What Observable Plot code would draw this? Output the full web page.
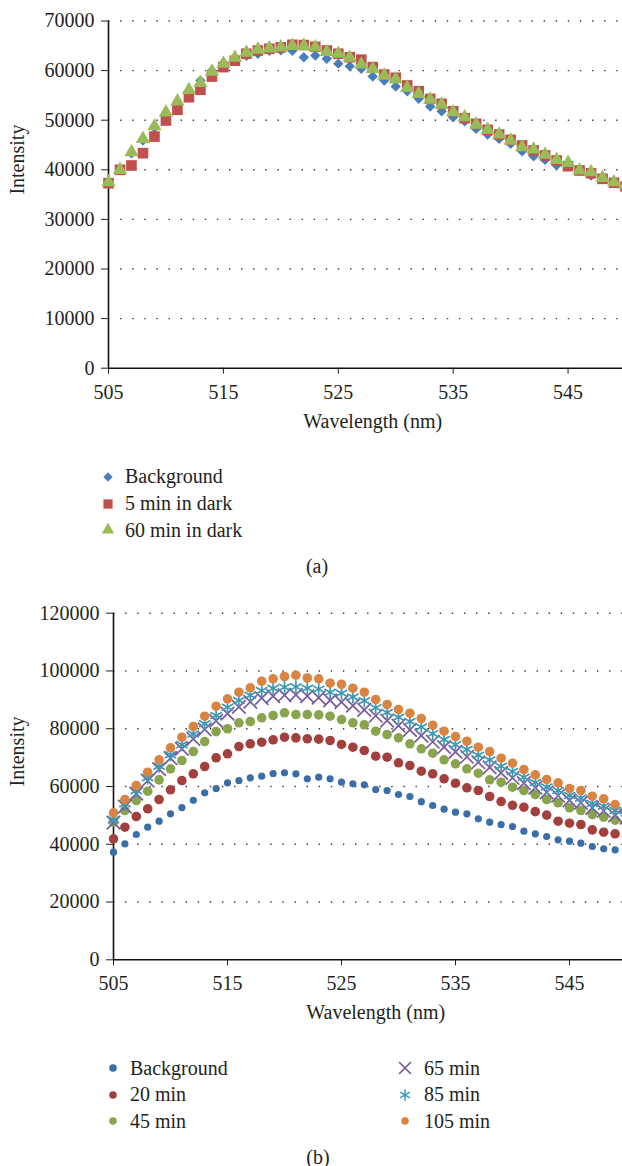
<!DOCTYPE html>
<html><head><meta charset="utf-8">
<script src="https://cdn.jsdelivr.net/npm/d3@7"></script>
<script src="https://cdn.jsdelivr.net/npm/@observablehq/plot@0.6"></script>
<style>
html,body{margin:0;padding:0;background:#fff}
body{width:622px;height:1166px;position:relative;overflow:hidden;font-family:"Liberation Serif",serif;color:#231f20}
.abs{position:absolute}
.leg{position:absolute;font-size:20px;line-height:24px;height:24px;white-space:nowrap}
.cap{position:absolute;font-size:20px;line-height:24px;height:24px;width:100px;text-align:center}
</style></head><body>
<div id="pa" class="abs" style="left:0;top:0"></div>
<div id="pb" class="abs" style="left:0;top:590px"></div>
<div id="legs"></div>
<script>
// ---------- data ----------
const wavelengths = [505,506,507,508,509,510,511,512,513,514,515,516,517,518,519,520,521,522,523,524,525,526,527,528,529,530,531,532,533,534,535,536,537,538,539,540,541,542,543,544,545,546,547,548,549,550];
const xTicks = [505,515,525,535,545];
const yTicksA = [0,10000,20000,30000,40000,50000,60000,70000];
const yTicksB = [0,20000,40000,60000,80000,100000,120000];

// Panel (a)
const seriesA = ["Background","5 min in dark","60 min in dark"];
const bgA = [37300,40000,43350,45900,48500,51200,53500,55800,58000,60000,61500,62500,63000,63400,64000,64100,64000,62700,63050,62400,61400,60900,60350,58800,58000,56800,55850,54300,52750,51800,50600,49800,48250,47100,46250,45250,43750,42750,42000,40900,40650,39850,38850,38400,37500,37100];
const dark5A = [37300,40000,40870,43350,46700,49940,52100,54640,56130,58800,60700,62000,63400,64050,64400,64700,65200,65150,64800,64050,63400,62700,62200,60700,59200,58550,57000,55850,54300,53300,51800,50400,49270,48060,47100,46050,44900,43900,42900,41880,40730,39860,39300,38180,37380,36630];
const dark60A = [37500,40000,43550,46250,48800,51600,53800,56100,57500,59800,61400,62600,63600,64250,64500,64700,65000,65000,64700,63750,63400,62600,61230,60350,59000,58270,56540,55320,54170,53160,51610,50600,49130,48060,47120,45900,44570,44100,43080,42010,41410,39860,39520,38390,37500,37000];

// Panel (b)
const seriesB = ["Background","20 min","45 min","65 min","85 min","105 min"];
const bgB = [37250,40160,43380,45910,48000,50540,52700,55200,57810,59300,61270,62070,63000,63570,64500,64740,64390,62660,63220,62660,61490,60930,60580,58960,58610,57230,56540,54750,53420,52150,51100,50540,48810,47650,46840,46150,44520,43620,42690,41540,41060,40370,39220,38430,38080,37500];
const min20B = [41890,45910,49610,52280,55500,58850,62070,64390,66920,69930,71320,73840,74780,75330,76160,77070,76850,76510,76400,75930,74550,73600,72460,70490,70150,68200,67270,65300,64390,62660,61150,59550,58610,56540,54800,53500,52840,51300,50100,47990,47300,46840,45000,44170,43620,42800];
const min45B = [47640,51690,55150,58370,62300,66120,69000,72110,75570,79000,80000,82050,82500,83780,84580,85510,84920,84920,84800,84340,83190,82050,81360,79140,78000,76860,74780,73050,71530,69240,67860,66120,64600,62320,61490,59760,58610,57230,55500,54350,52620,51690,50300,49370,48350,47500];
const min65B = [47500,53000,57500,62000,66000,69800,73000,76500,79800,82700,85200,87600,89300,90600,91300,91600,91700,91300,90800,89800,89200,88000,86500,84500,82800,81100,79600,77600,75500,73600,72000,70300,68400,66600,64700,63000,61200,59600,58000,56800,55200,54300,52600,51600,50000,49200];
const min85B = [48500,54000,58500,63000,67000,71000,74500,78200,81700,84600,87400,89800,91600,93200,94000,94400,94500,94000,93700,92600,92300,91000,89700,87300,85600,84000,82500,80600,78300,76300,74500,72800,70800,69200,67000,65200,63200,61400,59800,58600,56900,56000,54100,53200,51700,50900];
const min105B = [50900,55500,60340,64950,69240,73400,77070,80770,84340,87800,90360,92640,94170,96450,97280,98080,98530,97560,97280,95770,95400,94040,92640,90120,88390,86660,85380,83540,81200,79140,77300,75680,73600,72110,69790,68060,65880,64050,62420,61280,59300,58610,56640,55740,53760,52800];

// ---------- styles ----------
const FONT = '"Liberation Serif", serif';
const TXT = "#231f20";
const stylesA = [
  {symbol: "diamond2", fill: "#4a7ebb", r: 4.7},
  {symbol: "square", fill: "#c0504d", r: 6.0},
  {symbol: "triangle", fill: "#9bbb59", r: 5.3}
];
const stylesB = [
  {symbol: "circle", fill: "#3b6ea8", r: 3.6},
  {symbol: "circle", fill: "#a3403e", r: 4.8},
  {symbol: "circle", fill: "#88a44c", r: 4.8},
  {symbol: "times", stroke: "#7a5a9c", r: 6.2},
  {symbol: "asterisk", stroke: "#3d9ab5", r: 6.2},
  {symbol: "circle", fill: "#d98442", r: 4.8}
];

const rows = (vals, name) => wavelengths.map((w, i) => ({w, v: vals[i], s: name}));

function dotMark(data, st) {
  const o = {x: "w", y: "v", symbol: st.symbol, r: st.r};
  if (st.fill) { o.fill = st.fill; o.stroke = "none"; }
  else { o.fill = "none"; o.stroke = st.stroke; o.strokeWidth = 1.7; }
  return Plot.dot(data, o);
}

function makePanel({values, names, styles, yTicks, yMax, mL, mR, mT, mB, tickPad, labDy, labDx}) {
  const marks = [
    Plot.ruleY(yTicks.filter(d => d > 0), {y: d => d, stroke: "#3a3a3a", strokeWidth: 1.4, strokeDasharray: "1.4 10.7"}),
    Plot.axisY({ticks: yTicks, tickFormat: "d", tickSize: 7, tickPadding: 7, label: null, fontSize: 20}),
    Plot.axisX({ticks: xTicks, tickFormat: "d", tickSize: 6, tickPadding: tickPad, label: null, fontSize: 20}),
    Plot.ruleX([505], {stroke: "#111", strokeWidth: 1.6}),
    Plot.ruleY([0], {stroke: "#111", strokeWidth: 1.6})
  ];
  values.forEach((vals, i) => marks.push(dotMark(rows(vals, names[i]), styles[i])));
  marks.push(Plot.text(["Wavelength (nm)"], {text: d => d, frameAnchor: "bottom", dy: labDy, fontSize: 20, fill: TXT}));
  marks.push(Plot.text(["Intensity"], {text: d => d, frameAnchor: "left", dx: labDx, rotate: -90, fontSize: 20, fill: TXT}));
  return Plot.plot({
    width: 622, height: 440,
    marginLeft: mL, marginRight: mR, marginTop: mT, marginBottom: mB,
    style: {fontFamily: FONT, fontSize: "20px", color: TXT, background: "transparent", overflow: "visible"},
    x: {domain: [505, 551]},
    y: {domain: [0, yMax]},
    marks
  });
}

document.getElementById("pa").append(makePanel({
  values: [bgA, dark5A, dark60A], names: seriesA, styles: stylesA,
  yTicks: yTicksA, yMax: 70000, mL: 108, mR: -14.5, mT: 20.5, mB: 72.3, tickPad: 10.7, labDy: 60, labDx: -91
}));
document.getElementById("pb").append(makePanel({
  values: [bgB, min20B, min45B, min65B, min85B, min105B], names: seriesB, styles: stylesB,
  yTicks: yTicksB, yMax: 120000, mL: 113, mR: -15.4, mT: 22.7, mB: 70.7, tickPad: 9.8, labDy: 59, labDx: -96
}));

// ---------- legends ----------
const legs = document.getElementById("legs");
function symPath(name, r) {
  const map = {diamond2: d3.symbolDiamond2, square: d3.symbolSquare, triangle: d3.symbolTriangle,
               circle: d3.symbolCircle, times: d3.symbolTimes, asterisk: d3.symbolAsterisk};
  return d3.symbol(map[name], Math.PI * r * r)();
}
function legendItem(mx, tx, cy, label, st, r) {
  const fill = st.fill || "none", stroke = st.stroke || "none";
  const svg = document.createElementNS("http://www.w3.org/2000/svg", "svg");
  svg.setAttribute("width", 20); svg.setAttribute("height", 20);
  svg.style.position = "absolute"; svg.style.left = (mx - 10) + "px"; svg.style.top = (cy - 10) + "px";
  svg.style.overflow = "visible";
  const p = document.createElementNS("http://www.w3.org/2000/svg", "path");
  p.setAttribute("d", symPath(st.symbol, r));
  p.setAttribute("transform", "translate(10,10)");
  p.setAttribute("fill", fill); p.setAttribute("stroke", stroke);
  p.setAttribute("stroke-width", st.stroke ? 1.5 : 0);
  svg.append(p);
  legs.append(svg);
  const d = document.createElement("div");
  d.className = "leg"; d.style.left = tx + "px"; d.style.top = (cy - 12.5) + "px";
  d.textContent = label;
  legs.append(d);
}
const legARows = [476.7, 503.7, 530];
seriesA.forEach((s, i) => legendItem(108, 125, legARows[i], s, stylesA[i], [4.2, 5.2, 4.6][i]));
const legBRows = [1068, 1094.5, 1121];
seriesB.forEach((s, i) => {
  const col = i < 3 ? 0 : 1, row = i % 3;
  const rr = stylesB[i].symbol === "circle" ? 3.8 : 5.4;
  legendItem(col ? 405 : 113, col ? 424 : 130, legBRows[row], s, stylesB[i], rr);
});
function caption(text, cx, cy) {
  const d = document.createElement("div");
  d.className = "cap"; d.style.left = (cx - 50) + "px"; d.style.top = (cy - 12.5) + "px";
  d.textContent = text; legs.append(d);
}
caption("(a)", 317, 566.7);
caption("(b)", 318, 1157);
</script>
</body></html>
